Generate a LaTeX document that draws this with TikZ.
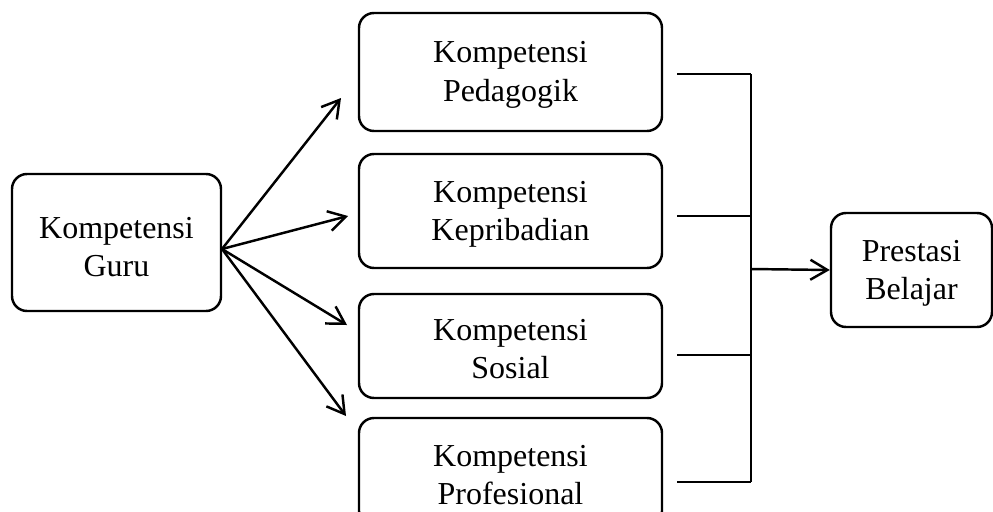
\documentclass[tikz,border=0pt]{standalone}
\usepackage{fontspec}
\setmainfont{Liberation Serif}
\usetikzlibrary{arrows.meta}
\begin{document}
\begin{tikzpicture}[x=0.02cm,y=-0.02cm,
  box/.style={draw, line width=1.4pt, rounded corners=0.3cm, inner sep=0pt},
  txt/.style={align=center, inner sep=0pt, font=\fontsize{18.2}{21.8}\selectfont},
  conn/.style={line width=1.4pt},
  arr/.style={line width=1.4pt, -{Straight Barb[length=3.4mm,width=4mm,line width=1.4pt]}}]
\clip (0,0) rectangle (993,511);
\node[box, minimum width=209*0.02cm, minimum height=137*0.02cm] (guru) at (116.5,242.5) {};
\node[box, minimum width=303*0.02cm, minimum height=118*0.02cm] (b1) at (510.5,72) {};
\node[box, minimum width=303*0.02cm, minimum height=114*0.02cm] (b2) at (510.5,211) {};
\node[box, minimum width=303*0.02cm, minimum height=104*0.02cm] (b3) at (510.5,346) {};
\node[box, minimum width=303*0.02cm, minimum height=108*0.02cm] (b4) at (510.5,472) {};
\node[box, minimum width=161*0.02cm, minimum height=114*0.02cm] (pb) at (911.5,270) {};
\node[txt] (tguru) at (116.5,247) {Kompetensi\\Guru};
\node[txt] (tb1) at (510.5,75) {Kompetensi\\Pedagogik};
\node[txt] (tb2) at (510.5,214) {Kompetensi\\Kepribadian};
\node[txt] (tb3) at (510.5,349) {Kompetensi\\Sosial};
\node[txt] (tb4) at (510.5,475) {Kompetensi\\Profesional};
\node[txt] (tpb) at (911.5,273) {Prestasi\\Belajar};
% arrows from Guru
\coordinate (g) at (222,249);
\coordinate (t1) at (341,98);
\coordinate (t2) at (348,216);
\coordinate (t3) at (347,325);
\coordinate (t4) at (346,416);
\draw[arr] (g) -- (t1);
\draw[arr] (g) -- (t2);
\draw[arr] (g) -- (t3);
\draw[arr] (g) -- (t4);
% collector lines
\coordinate (r1) at (677,74);
\coordinate (r2) at (677,216);
\coordinate (r3) at (677,355);
\coordinate (r4) at (677,482);
\coordinate (v1) at (751,74);
\coordinate (v2) at (751,216);
\coordinate (v3) at (751,355);
\coordinate (v4) at (751,482);
\coordinate (vm) at (751,269);
\draw[conn] (r1) -- (v1);
\draw[conn] (r2) -- (v2);
\draw[conn] (r3) -- (v3);
\draw[conn] (r4) -- (v4);
\draw[conn] (v1) -- (v4);
\draw[arr] (vm) -- (pb.west);
\end{tikzpicture}
\end{document}
